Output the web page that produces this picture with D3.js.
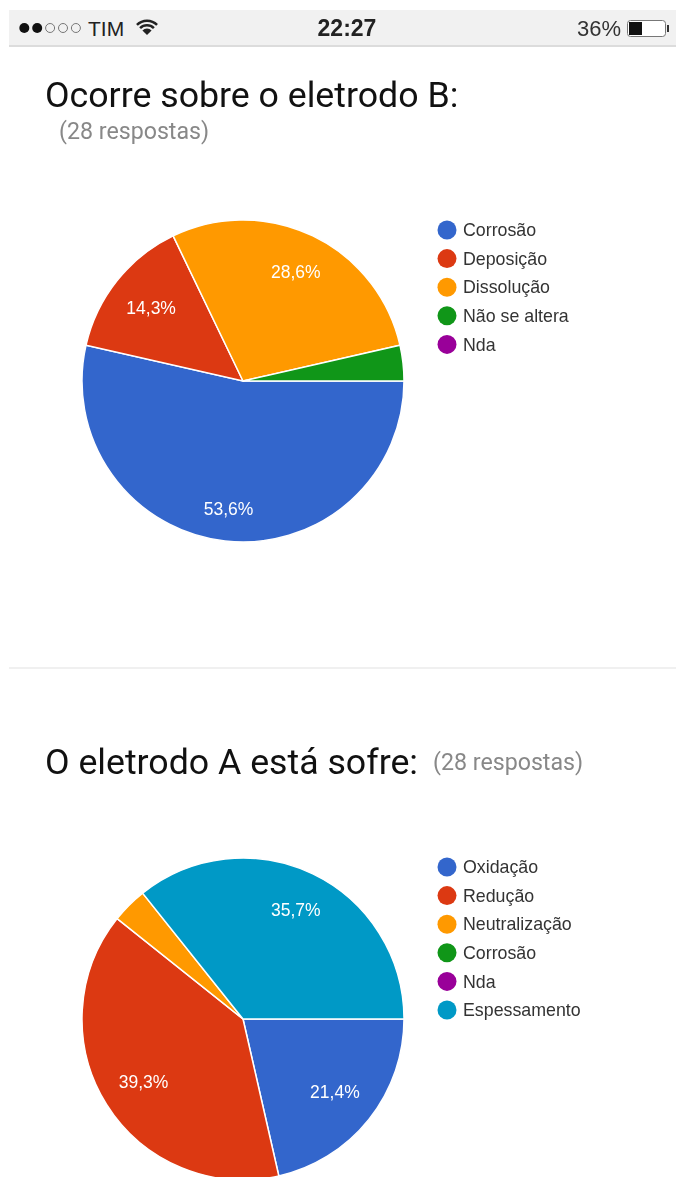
<!DOCTYPE html>
<html>
<head>
<meta charset="utf-8">
<script src="https://cdn.jsdelivr.net/npm/d3@7/dist/d3.min.js"></script>
<style>
  body { margin: 0; background: #fff; }
  svg { display: block; filter: blur(0.5px); }
  text { font-family: Roboto, sans-serif; }
  .legend text, .pct, .status { font-family: "Liberation Sans", Arial, sans-serif; }
</style>
</head>
<body>
<div id="chart"></div>
<script>
// first chart
var eletrodoBLabels = ["Corrosão", "Deposição", "Dissolução", "Não se altera", "Nda"];
var eletrodoBValues = [15, 4, 8, 1, 0];
// second chart
var eletrodoALabels = ["Oxidação", "Redução", "Neutralização", "Corrosão", "Nda", "Espessamento"];
var eletrodoAValues = [6, 11, 1, 0, 0, 10];
var sliceColors = ["#3366cc", "#dc3912", "#ff9900", "#109618", "#990099", "#0099c6"];

var svg = d3.select("#chart").append("svg")
  .attr("width", 676)
  .attr("height", 1177);

// status bar
svg.append("rect").attr("x", 9).attr("y", 10).attr("width", 667).attr("height", 35).attr("fill", "#f1f1f1");
svg.append("rect").attr("x", 9).attr("y", 45).attr("width", 667).attr("height", 2).attr("fill", "#dcdcdc");
[0, 1, 2, 3, 4].forEach(function(i){
  svg.append("circle")
    .attr("cx", 24.3 + i * 12.9).attr("cy", 28).attr("r", i < 2 ? 5 : 4.5)
    .attr("fill", i < 2 ? "#111" : "none")
    .attr("stroke", i < 2 ? "none" : "#777")
    .attr("stroke-width", 1);
});
svg.append("text").attr("class", "status").attr("x", 88).attr("y", 36).attr("font-size", 21).attr("fill", "#222").text("TIM");
// wifi icon
var wifi = d3.arc().startAngle(-Math.PI / 4).endAngle(Math.PI / 4);
[[4, 6.5], [8.5, 11], [13, 15.5]].forEach(function(r, i){
  var a = i == 0 ? wifi.innerRadius(0).outerRadius(r[1]) : wifi.innerRadius(r[0]).outerRadius(r[1]);
  svg.append("path").attr("transform", "translate(147,35)").attr("d", a()).attr("fill", "#222");
});
svg.append("text").attr("class", "status").attr("x", 347).attr("y", 36).attr("text-anchor", "middle")
  .attr("font-size", 23).attr("font-weight", 700).attr("fill", "#222").text("22:27");
svg.append("text").attr("class", "status").attr("x", 621).attr("y", 36).attr("text-anchor", "end")
  .attr("font-size", 22).attr("fill", "#333").text("36%");
// battery
svg.append("rect").attr("x", 627.5).attr("y", 20.5).attr("width", 38).attr("height", 16).attr("rx", 3)
  .attr("fill", "#fff").attr("stroke", "#777").attr("stroke-width", 1);
svg.append("rect").attr("x", 629).attr("y", 22).attr("width", 13).attr("height", 13).attr("fill", "#111");
svg.append("rect").attr("x", 667).attr("y", 25).attr("width", 2).attr("height", 7).attr("fill", "#333");

// divider
svg.append("rect").attr("x", 9).attr("y", 667).attr("width", 667).attr("height", 2).attr("fill", "#f0f0f0");

function drawPie(labels, values, cy, legendY){
  var radius = 161;
  var pie = d3.pie().sort(null)
    .startAngle(Math.PI / 2)
    .endAngle(Math.PI / 2 + 2 * Math.PI);
  var arc = d3.arc().innerRadius(0).outerRadius(radius);
  var total = d3.sum(values);
  var g = svg.append("g").attr("transform", "translate(243," + cy + ")");
  var arcs = pie(values).filter(function(d){ return d.value > 0; });

  g.selectAll("path").data(arcs).enter().append("path")
    .attr("d", arc)
    .attr("fill", function(d){ return sliceColors[d.index]; })
    .attr("stroke", "#fff")
    .attr("stroke-width", 1.5);

  // the slice over half the pie keeps its label further out
  function labelPos(d){
    var share = d.value / total;
    var r = radius * (share > 0.5 ? 0.8 : share > 0.25 && share < 0.38 ? 0.755 : 0.73);
    return d3.arc().innerRadius(r).outerRadius(r).centroid(d);
  }

  g.selectAll("text").data(arcs.filter(function(d){ return d.value / total > 0.05; })).enter().append("text")
    .attr("class", "pct")
    .attr("transform", function(d){ return "translate(" + labelPos(d) + ")"; })
    .attr("dy", "0.35em")
    .attr("text-anchor", "middle")
    .attr("font-size", 17.5)
    .attr("fill", "#fff")
    .text(function(d){ return (d.value / total * 100).toFixed(1).replace(".", ",") + "%"; });

  var legendScale = d3.scalePoint().domain(labels).range([legendY, legendY + (labels.length - 1) * 28.6]);
  var legend = svg.append("g").attr("class", "legend");
  legend.selectAll("circle").data(labels).enter().append("circle")
    .attr("cx", 447)
    .attr("cy", function(d){ return legendScale(d); })
    .attr("r", 9.5)
    .attr("fill", function(d, i){ return sliceColors[i]; });
  legend.selectAll("text").data(labels).enter().append("text")
    .attr("x", 463)
    .attr("y", function(d){ return legendScale(d); })
    .attr("dy", "0.35em")
    .attr("font-size", 17.8)
    .attr("fill", "#333")
    .text(function(d){ return d; });
}

drawPie(eletrodoBLabels, eletrodoBValues, 381, 230);
drawPie(eletrodoALabels, eletrodoAValues, 1019, 867);

// titles
svg.append("text").attr("x", 45).attr("y", 107).attr("font-size", 35.7).attr("fill", "#111").text("Ocorre sobre o eletrodo B:");
svg.append("text").attr("x", 59).attr("y", 139).attr("font-size", 23.2).attr("fill", "#888").text("(28 respostas)");
svg.append("text").attr("x", 45).attr("y", 774).attr("font-size", 35.7).attr("fill", "#111").text("O eletrodo A está sofre:");
svg.append("text").attr("x", 433).attr("y", 770).attr("font-size", 23.2).attr("fill", "#888").text("(28 respostas)");
</script>
</body>
</html>
